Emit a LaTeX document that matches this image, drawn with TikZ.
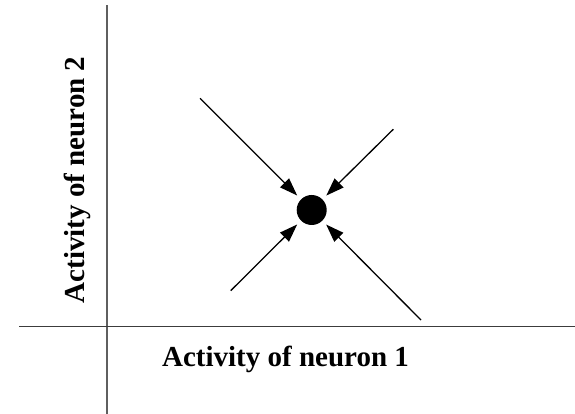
\documentclass[tikz,border=0pt]{standalone}
\usepackage{fontspec}
\setmainfont{Liberation Serif}
\usepackage{tikz}
\usetikzlibrary{arrows.meta}
\definecolor{axisgray}{RGB}{95,95,95}
\definecolor{axisdark}{RGB}{60,60,60}

\begin{document}
\begin{tikzpicture}[x=1pt,y=1pt,>={Triangle[length=18pt,width=12.5pt]},
    axislabel/.style={font=\fontsize{29}{34}\selectfont\bfseries,anchor=base,inner sep=0pt},
    flow/.style={->,line width=1.3pt,black}]
    \useasboundingbox (0,0) rectangle (575,414);

    % axes
    \coordinate (ytop) at (107,409);
    \coordinate (ybot) at (107,0);
    \coordinate (xleft) at (19,87.5);
    \coordinate (xright) at (575,87.5);
    \draw[line width=1.4pt,axisgray] (ybot) -- (ytop);
    \draw[line width=1.4pt,axisdark] (xleft) -- (xright);

    \node[axislabel] (xlab) at (285.5,47.3) {Activity of neuron 1};
    \node[axislabel,rotate=90] (ylab) at (84,234) {Activity of neuron 2};

    % fixed point and trajectories
    \node[circle,fill=black,minimum size=30pt,inner sep=0pt,outer sep=5.5pt] (fix) at (311.7,204) {};
    \coordinate (a1) at (200,315.7);
    \coordinate (a2) at (393.3,284.7);
    \coordinate (a3) at (230.7,123.3);
    \coordinate (a4) at (421,94);
    \foreach \s in {a1,a2,a3,a4} {
        \draw[flow] (\s) -- (fix);
    }
\end{tikzpicture}
\end{document}
